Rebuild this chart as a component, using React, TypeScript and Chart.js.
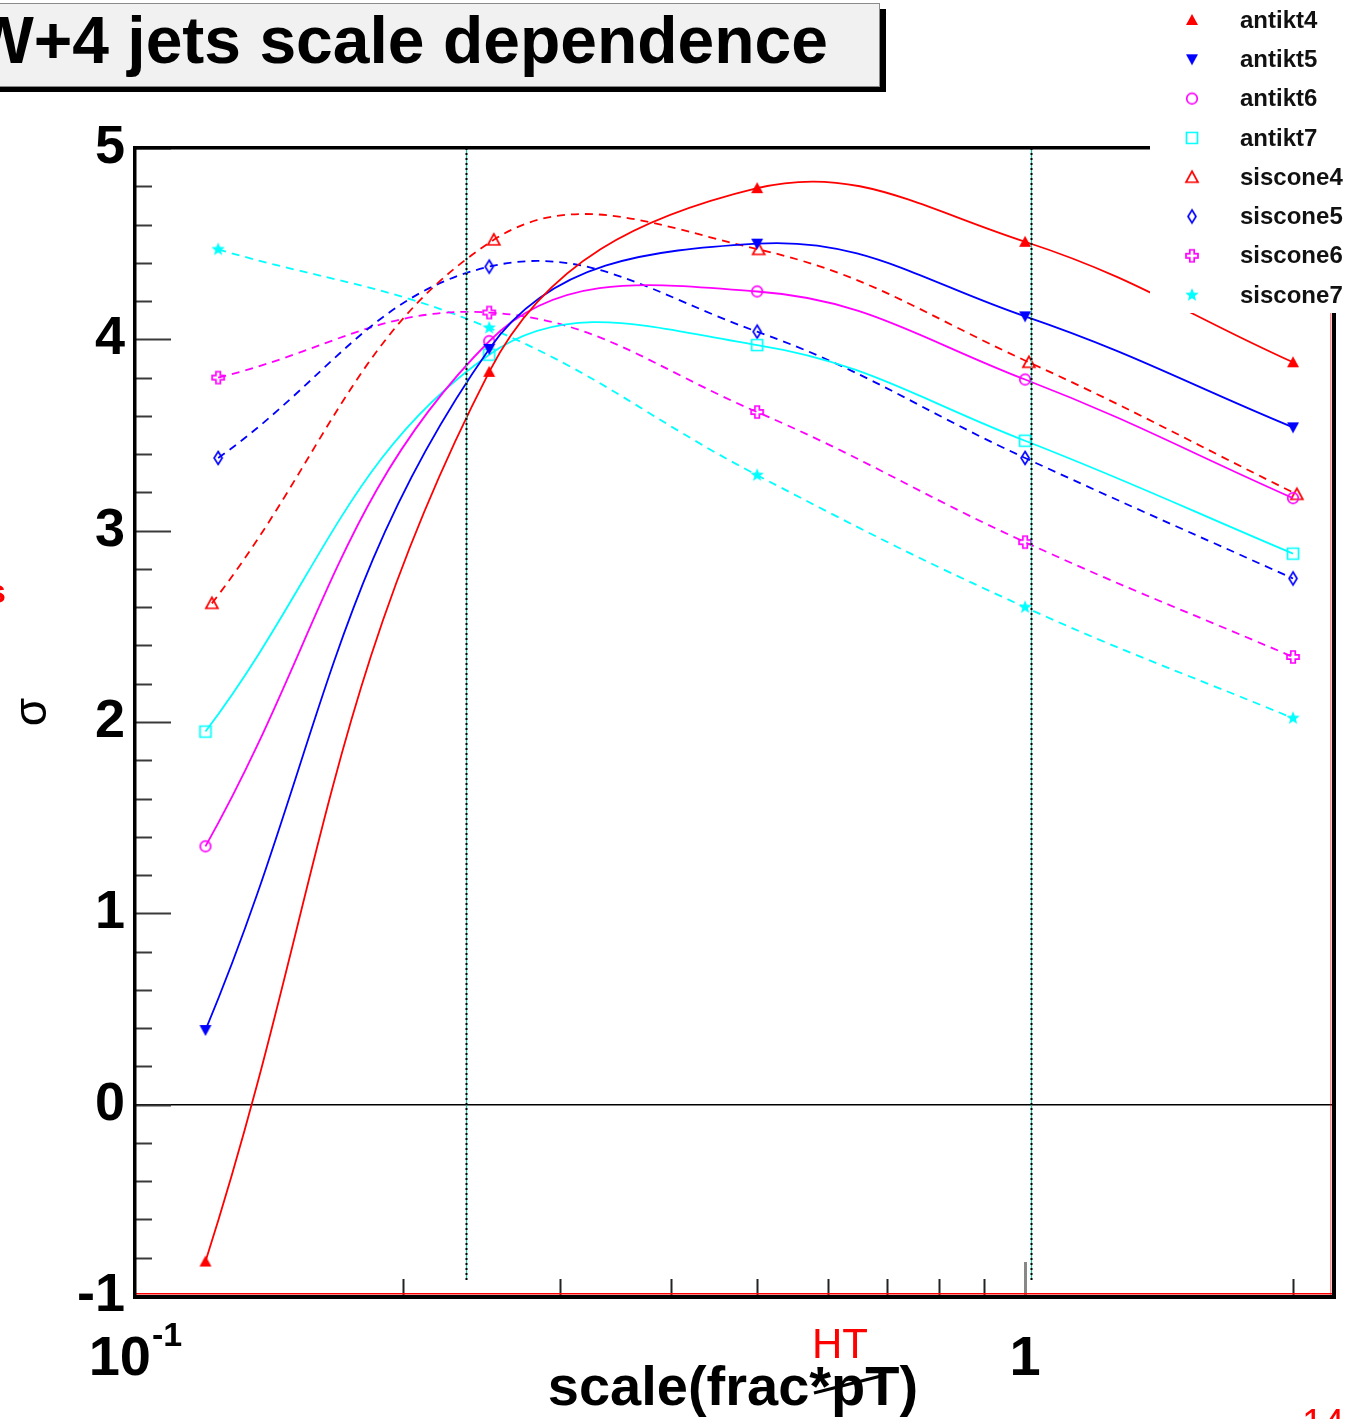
import React, { useEffect, useRef } from "react";
import { Chart, registerables } from "chart.js";

Chart.register(...registerables);

const FONT = '"Liberation Sans", Arial, Helvetica, sans-serif';

// scale factors (frac of pT) at which each algorithm was evaluated
const antiktScale = [0.12, 0.25, 0.5, 1, 2];
const sisconeScale = [0.124, 0.25, 0.5, 1, 2];
const siscone4Scale = [0.122, 0.253, 0.502, 1.01, 2.02];

// cross sections per algorithm
const antikt4 = [-0.82, 3.83, 4.79, 4.51, 3.88];
const antikt5 = [0.39, 3.95, 4.5, 4.12, 3.54];
const antikt6 = [1.35, 3.99, 4.25, 3.79, 3.17];
const antikt7 = [1.95, 3.92, 3.97, 3.47, 2.88];
const siscone4 = [2.62, 4.52, 4.47, 3.88, 3.19];
const siscone5 = [3.38, 4.38, 4.04, 3.38, 2.75];
const siscone6 = [3.8, 4.14, 3.62, 2.94, 2.34];
const siscone7 = [4.47, 4.06, 3.29, 2.6, 2.02];

// reference scale choices marked with vertical dotted lines
const referenceScales = [0.2355, 1.016];

// axis ranges and ticks
const yMin = -1;
const yMax = 5;
const xMin = 0.1;
const xMax = 2.218;
const xMinorTicks = [0.2, 0.3, 0.4, 0.5, 0.6, 0.7, 0.8, 0.9, 2];
const xMajorTick = 1;

type MarkerKind =
  | "triUp"
  | "triDown"
  | "circle"
  | "square"
  | "triOpen"
  | "diamond"
  | "cross"
  | "star";

function makeMarker(kind: MarkerKind, color: string): HTMLCanvasElement {
  const s = 18;
  const c = document.createElement("canvas");
  c.width = s;
  c.height = s;
  const g = c.getContext("2d")!;
  g.translate(s / 2, s / 2);
  g.strokeStyle = color;
  g.fillStyle = color;
  g.lineWidth = 1.7;
  g.beginPath();
  switch (kind) {
    case "triUp":
      g.moveTo(0, -6);
      g.lineTo(6, 5);
      g.lineTo(-6, 5);
      g.closePath();
      g.fill();
      break;
    case "triDown":
      g.moveTo(0, 6);
      g.lineTo(6, -5);
      g.lineTo(-6, -5);
      g.closePath();
      g.fill();
      break;
    case "circle":
      g.arc(0, 0, 5.3, 0, Math.PI * 2);
      g.stroke();
      break;
    case "square":
      g.rect(-5.5, -5.5, 11, 11);
      g.stroke();
      break;
    case "triOpen":
      g.moveTo(0, -6);
      g.lineTo(6, 5);
      g.lineTo(-6, 5);
      g.closePath();
      g.stroke();
      break;
    case "diamond":
      g.moveTo(0, -6.5);
      g.lineTo(4, 0);
      g.lineTo(0, 6.5);
      g.lineTo(-4, 0);
      g.closePath();
      g.stroke();
      break;
    case "cross": {
      const a = 2.2;
      const L = 6;
      const pts = [
        [-a, -L], [a, -L], [a, -a], [L, -a], [L, a], [a, a],
        [a, L], [-a, L], [-a, a], [-L, a], [-L, -a], [-a, -a],
      ];
      pts.forEach(([px, py], i) => (i === 0 ? g.moveTo(px, py) : g.lineTo(px, py)));
      g.closePath();
      g.stroke();
      break;
    }
    case "star": {
      for (let i = 0; i < 10; i++) {
        const r = i % 2 === 0 ? 7 : 3;
        const ang = -Math.PI / 2 + (i * Math.PI) / 5;
        const px = r * Math.cos(ang);
        const py = r * Math.sin(ang);
        if (i === 0) g.moveTo(px, py);
        else g.lineTo(px, py);
      }
      g.closePath();
      g.fill();
      break;
    }
  }
  return c;
}

interface Series {
  name: string;
  xs: number[];
  ys: number[];
  color: string;
  dashed: boolean;
  marker: MarkerKind;
}

const series: Series[] = [
  { name: "antikt4", xs: antiktScale, ys: antikt4, color: "#ff0000", dashed: false, marker: "triUp" },
  { name: "antikt5", xs: antiktScale, ys: antikt5, color: "#0000ff", dashed: false, marker: "triDown" },
  { name: "antikt6", xs: antiktScale, ys: antikt6, color: "#ff00ff", dashed: false, marker: "circle" },
  { name: "antikt7", xs: antiktScale, ys: antikt7, color: "#00ffff", dashed: false, marker: "square" },
  { name: "siscone4", xs: siscone4Scale, ys: siscone4, color: "#ff0000", dashed: true, marker: "triOpen" },
  { name: "siscone5", xs: sisconeScale, ys: siscone5, color: "#0000ff", dashed: true, marker: "diamond" },
  { name: "siscone6", xs: sisconeScale, ys: siscone6, color: "#ff00ff", dashed: true, marker: "cross" },
  { name: "siscone7", xs: sisconeScale, ys: siscone7, color: "#00ffff", dashed: true, marker: "star" },
];

export default function App() {
  const canvasRef = useRef<HTMLCanvasElement | null>(null);

  useEffect(() => {
    document.body.style.margin = "0";
    const canvas = canvasRef.current;
    if (!canvas) return;

    const markers = series.map((s) => makeMarker(s.marker, s.color));

    const decor = {
      id: "decor",
      beforeDatasetsDraw(chart: any) {
        const { ctx, chartArea: a, scales } = chart;
        const y0 = scales.y.getPixelForValue(0);
        ctx.save();
        ctx.strokeStyle = "#000";
        ctx.lineWidth = 1.5;
        ctx.beginPath();
        ctx.moveTo(a.left, y0);
        ctx.lineTo(a.right, y0);
        ctx.stroke();
        ctx.restore();
      },
      afterDatasetsDraw(chart: any) {
        const { ctx, chartArea: a, scales } = chart;
        const xs = scales.x;
        const ys = scales.y;
        ctx.save();

        // vertical reference lines: teal hairline with black dots
        referenceScales.forEach((v) => {
          const px = Math.round(xs.getPixelForValue(v)) + 0.5;
          ctx.setLineDash([]);
          ctx.strokeStyle = "#20c0a0";
          ctx.lineWidth = 1.2;
          ctx.beginPath();
          ctx.moveTo(px, a.top);
          ctx.lineTo(px, a.bottom - 16);
          ctx.stroke();
          ctx.strokeStyle = "#000";
          ctx.lineWidth = 2;
          ctx.setLineDash([2, 3]);
          ctx.beginPath();
          ctx.moveTo(px, a.top);
          ctx.lineTo(px, a.bottom - 16);
          ctx.stroke();
        });
        ctx.setLineDash([]);

        // y ticks pointing inward
        for (let i = 0; i <= (yMax - yMin) * 5; i++) {
          const v = yMin + i * 0.2;
          const py = Math.round(ys.getPixelForValue(v)) + 0.5;
          const major = i % 5 === 0;
          ctx.strokeStyle = "#3a3a3a";
          ctx.lineWidth = 2;
          ctx.beginPath();
          ctx.moveTo(a.left, py);
          ctx.lineTo(a.left + (major ? 36 : 17), py);
          ctx.stroke();
        }

        // x ticks pointing inward
        xMinorTicks.forEach((v) => {
          const px = Math.round(xs.getPixelForValue(v)) + 0.5;
          ctx.strokeStyle = "#222";
          ctx.lineWidth = 2;
          ctx.beginPath();
          ctx.moveTo(px, a.bottom);
          ctx.lineTo(px, a.bottom - 17);
          ctx.stroke();
        });
        {
          const px = Math.round(xs.getPixelForValue(xMajorTick)) + 0.5;
          ctx.strokeStyle = "#888";
          ctx.lineWidth = 3;
          ctx.beginPath();
          ctx.moveTo(px, a.bottom);
          ctx.lineTo(px, a.bottom - 34);
          ctx.stroke();
        }

        // frame
        ctx.fillStyle = "#ff0000";
        ctx.fillRect(a.left, a.bottom - 3, a.right - a.left, 1.5);
        ctx.fillStyle = "rgba(255,0,0,0.45)";
        ctx.fillRect(a.right - 3, a.top, 1.5, a.bottom - a.top);
        ctx.fillStyle = "#000";
        ctx.fillRect(a.left - 2, a.top - 2, 3.5, a.bottom - a.top + 5);
        ctx.fillRect(a.left - 2, a.top - 2, a.right - a.left + 4, 3.5);
        ctx.fillRect(a.right - 1, a.top - 2, 4, a.bottom - a.top + 5);
        ctx.fillRect(a.left - 2, a.bottom - 1, a.right - a.left + 5, 4);

        // x tick labels
        ctx.fillStyle = "#000";
        ctx.textBaseline = "alphabetic";
        const p01 = xs.getPixelForValue(0.1);
        ctx.font = `bold 56px ${FONT}`;
        ctx.textAlign = "right";
        ctx.fillText("10", p01 + 16, 1375);
        ctx.font = `bold 34px ${FONT}`;
        ctx.textAlign = "left";
        ctx.fillText("-1", p01 + 17, 1346);
        ctx.font = `bold 56px ${FONT}`;
        ctx.textAlign = "center";
        ctx.fillText("1", xs.getPixelForValue(1), 1375);

        // axis title with the hand-corrected HT note
        ctx.font = `bold 56px ${FONT}`;
        ctx.textAlign = "center";
        ctx.fillText("scale(frac*pT)", 733, 1405);
        ctx.strokeStyle = "#000";
        ctx.lineWidth = 3;
        ctx.beginPath();
        ctx.moveTo(814, 1393);
        ctx.lineTo(885, 1375);
        ctx.stroke();
        ctx.fillStyle = "#ff0000";
        ctx.font = `42px ${FONT}`;
        ctx.textAlign = "left";
        ctx.fillText("HT", 812, 1358);

        // y title
        ctx.save();
        ctx.translate(46, 712);
        ctx.rotate(-Math.PI / 2);
        ctx.fillStyle = "#000";
        ctx.font = `46px ${FONT}`;
        ctx.textAlign = "center";
        ctx.fillText("σ", 0, 0);
        ctx.restore();

        // red page fragments
        ctx.fillStyle = "#ff0000";
        ctx.font = `bold 34px ${FONT}`;
        ctx.textAlign = "right";
        ctx.fillText("s", 6, 603);
        ctx.font = `38px ${FONT}`;
        ctx.textAlign = "left";
        ctx.fillText("14", 1302, 1436);

        // legend
        ctx.fillStyle = "#fff";
        ctx.fillRect(1150, 0, 207, 313);
        ctx.font = `bold 24px ${FONT}`;
        ctx.textAlign = "left";
        ctx.textBaseline = "middle";
        series.forEach((s, i) => {
          const cy = 20 + i * 39.3;
          const m = markers[i];
          ctx.drawImage(m, 1192 - m.width / 2, cy - m.height / 2);
          ctx.fillStyle = "#111";
          ctx.fillText(s.name, 1240, cy + 1);
        });

        // title box
        ctx.fillStyle = "#000";
        ctx.fillRect(-10, 9, 896, 83);
        ctx.fillStyle = "#f1f1f1";
        ctx.fillRect(-10, 3, 890, 83);
        ctx.strokeStyle = "#8a8a8a";
        ctx.lineWidth = 1;
        ctx.strokeRect(-10.5, 3.5, 890, 83);
        ctx.fillStyle = "#000";
        ctx.font = `bold 66px ${FONT}`;
        ctx.textAlign = "right";
        ctx.textBaseline = "alphabetic";
        ctx.fillText("W+4 jets scale dependence", 828, 63);

        ctx.restore();
      },
    };

    const chart = new Chart(canvas, {
      type: "line",
      data: {
        datasets: series.map((s, i) => ({
          label: s.name,
          data: s.xs.map((x, k) => ({ x, y: s.ys[k] })),
          borderColor: s.color,
          backgroundColor: s.color,
          borderWidth: 1.8,
          borderDash: s.dashed ? [8, 6] : [],
          tension: 0.4,
          fill: false,
          pointStyle: markers[i],
          pointRadius: 6,
          pointHoverRadius: 6,
        })),
      },
      options: {
        responsive: false,
        animation: false,
        events: [],
        layout: { padding: { top: 148, right: 24, left: 0, bottom: 0 } },
        plugins: {
          legend: { display: false },
          tooltip: { enabled: false },
          title: { display: false },
        },
        scales: {
          x: {
            type: "logarithmic",
            min: xMin,
            max: xMax,
            grid: { display: false, drawTicks: false },
            border: { display: false },
            ticks: { display: false },
            afterFit: (scale: any) => {
              scale.height = 123;
            },
          },
          y: {
            type: "linear",
            min: yMin,
            max: yMax,
            grid: { display: false, drawTicks: false },
            border: { display: false },
            ticks: {
              stepSize: 1,
              padding: 10,
              color: "#000",
              font: { family: FONT, size: 54, weight: "bold" },
              callback: (v: any) => String(v),
            },
            afterFit: (scale: any) => {
              scale.width = 135;
            },
          },
        },
      },
      plugins: [decor],
    });

    return () => chart.destroy();
  }, []);

  return (
    <div style={{ position: "relative", width: 1357, height: 1419, background: "#fff" }}>
      <canvas ref={canvasRef} width={1357} height={1419} style={{ display: "block" }} />
    </div>
  );
}
